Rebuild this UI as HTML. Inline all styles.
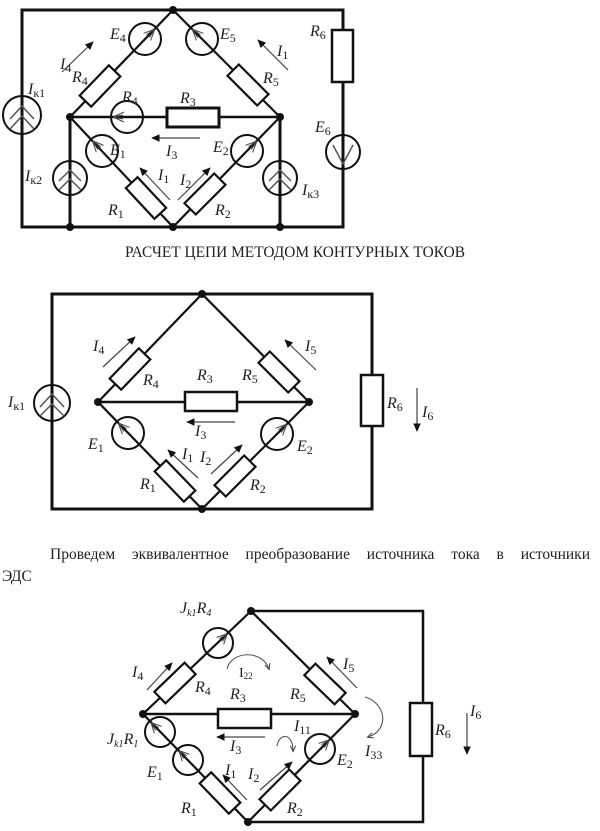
<!DOCTYPE html>
<html><head><meta charset="utf-8"><style>
html,body{margin:0;padding:0;background:#fff;}
body{width:600px;height:831px;position:relative;overflow:hidden;}
svg{position:absolute;left:0;top:0;}
.w3{stroke:#111;stroke-width:3;fill:none;}
.w2{stroke:#111;stroke-width:2.2;fill:none;}
.res{stroke:#111;stroke-width:2.2;fill:#fff;}
.src{stroke:#111;stroke-width:2;fill:none;}
.fe{stroke:#444;stroke-width:1;fill:none;}
.ch{stroke:#555;stroke-width:1.5;fill:none;}
.ar{stroke:#444;stroke-width:1.2;fill:none;marker-end:url(#ah);}
.cu{stroke:#555;stroke-width:1.1;fill:none;marker-end:url(#ah2);}
text{font-family:"Liberation Serif",serif;fill:#222;}
.l{font-style:italic;font-size:16px;}
.s{font-style:normal;font-size:12px;}
.si{font-style:italic;font-size:10px;}
.p{position:absolute;font-family:"Liberation Serif","DejaVu Serif",serif;font-size:15.5px;color:#222;}
</style></head><body>
<svg width="600" height="831" viewBox="0 0 600 831" xmlns="http://www.w3.org/2000/svg">
<defs>
<marker id="ah" viewBox="0 0 10 10" refX="9" refY="5" markerWidth="7" markerHeight="7" orient="auto"><path d="M0,0.5 L10,5 L0,9.5 z" fill="#111"/></marker>
<marker id="ah2" viewBox="0 0 10 10" refX="8" refY="5" markerWidth="6" markerHeight="6" orient="auto"><path d="M0,1 L9,5 L0,9" fill="none" stroke="#444" stroke-width="1.5"/></marker>
<g id="emf"><circle r="16" class="src"/><path class="fe" d="M14,0 L3,-5 M14,0 L3,5 M14,0 L4,-2 M14,0 L4,2"/></g>
<g id="emf15"><circle r="15" class="src"/><path class="fe" d="M13,0 L3,-5 M13,0 L3,5 M13,0 L4,-2 M13,0 L4,2"/></g>
</defs>

<!-- ================= DIAGRAM 1 ================= -->
<path class="w3" d="M22,10 H343 V227 H22 Z"/>
<path class="w2" d="M173,10 L70,117 L173,227 L280,117 Z"/>
<path class="w2" d="M70,117 H280" style="stroke-width:2.5"/>
<path class="w3" d="M70,117 V227 M280,117 V227"/>
<g transform="translate(22,115)"><circle r="19" class="src" fill="#fff"/><line x1="0" y1="-19" x2="0" y2="19" stroke="#111" stroke-width="2.5"/><path class="ch" d="M-12,4 L0,-9 L12,4 M-12,14 L0,1 L12,14"/></g>
<g transform="translate(70,178)"><circle r="17" class="src"/><path class="ch" d="M-11,3 L0,-8 L11,3 M-11,12 L0,1 L11,12"/></g>
<g transform="translate(280,178)"><circle r="17" class="src"/><path class="ch" d="M-11,3 L0,-8 L11,3 M-11,12 L0,1 L11,12"/></g>
<rect class="res" x="332" y="30" width="21" height="52" style="stroke-width:2.5"/>
<g transform="translate(343,152)"><circle r="17" class="src" fill="#fff"/><line x1="0" y1="-17" x2="0" y2="17" stroke="#111" stroke-width="2.5"/><path class="ch" d="M-10,-7 L0,12 L10,-7"/></g>
<use href="#emf" transform="translate(145,39) rotate(-45)"/>
<use href="#emf" transform="translate(202,39) rotate(-135)"/>
<rect class="res" x="-21" y="-8" width="42" height="16" transform="translate(100,86) rotate(-46)"/>
<rect class="res" x="-21" y="-8" width="42" height="16" transform="translate(248,85) rotate(45)"/>
<use href="#emf" transform="translate(127,117) rotate(180)"/>
<rect class="res" x="167" y="108" width="52" height="19" style="stroke-width:3"/>
<use href="#emf" transform="translate(102,151) rotate(-133)"/>
<use href="#emf" transform="translate(247,151) rotate(-45)"/>
<rect class="res" x="-21" y="-8" width="42" height="16" transform="translate(146,198) rotate(47)"/>
<rect class="res" x="-21" y="-8" width="42" height="16" transform="translate(205,194) rotate(-45)"/>
<g fill="#111"><circle cx="173" cy="10" r="4"/><circle cx="70" cy="117" r="4"/><circle cx="280" cy="117" r="4"/><circle cx="173" cy="227" r="4"/><circle cx="70" cy="227" r="4"/><circle cx="280" cy="227" r="4"/></g>
<line class="ar" x1="62" y1="72" x2="93" y2="42"/>
<line class="ar" x1="288" y1="70" x2="258" y2="40"/>
<line class="ar" x1="200" y1="138" x2="152" y2="138"/>
<line class="ar" x1="170" y1="200" x2="140" y2="168"/>
<line class="ar" x1="178" y1="200" x2="210" y2="168"/>
<text class="l" x="110" y="39">E<tspan class="s" dy="3">4</tspan></text>
<text class="l" x="220" y="39">E<tspan class="s" dy="3">5</tspan></text>
<text class="l" x="60" y="69">I<tspan class="s" dy="3">4</tspan></text>
<text class="l" x="72" y="82">R<tspan class="s" dy="3">4</tspan></text>
<text class="l" x="277" y="56">I<tspan class="s" dy="3">1</tspan></text>
<text class="l" x="263" y="83">R<tspan class="s" dy="3">5</tspan></text>
<text class="l" x="310" y="36">R<tspan class="s" dy="3">6</tspan></text>
<text class="l" x="28" y="94">I<tspan class="s" dy="3">к1</tspan></text>
<text class="l" x="122" y="102">R<tspan class="s" dy="3">4</tspan></text>
<text class="l" x="180" y="103">R<tspan class="s" dy="3">3</tspan></text>
<text class="l" x="315" y="132">E<tspan class="s" dy="3">6</tspan></text>
<text class="l" x="110" y="155">E<tspan class="s" dy="3">1</tspan></text>
<text class="l" x="166" y="156">I<tspan class="s" dy="3">3</tspan></text>
<text class="l" x="213" y="152">E<tspan class="s" dy="3">2</tspan></text>
<text class="l" x="25" y="181">I<tspan class="s" dy="3">к2</tspan></text>
<text class="l" x="158" y="180">I<tspan class="s" dy="3">1</tspan></text>
<text class="l" x="180" y="185">I<tspan class="s" dy="3">2</tspan></text>
<text class="l" x="302" y="195">I<tspan class="s" dy="3">к3</tspan></text>
<text class="l" x="108" y="215">R<tspan class="s" dy="3">1</tspan></text>
<text class="l" x="215" y="215">R<tspan class="s" dy="3">2</tspan></text>

<text x="125" y="257" font-size="16" textLength="340" lengthAdjust="spacingAndGlyphs">РАСЧЕТ ЦЕПИ МЕТОДОМ КОНТУРНЫХ ТОКОВ</text>

<!-- ================= DIAGRAM 2 ================= -->
<path class="w3" d="M52,294 H372 V509 H52 Z"/>
<path class="w2" d="M202,294 L98,402 L202,509 L309,402 Z"/>
<path class="w2" d="M98,402 H309" style="stroke-width:2.5"/>
<g transform="translate(52,403)"><circle r="18" class="src" fill="#fff"/><line x1="0" y1="-18" x2="0" y2="18" stroke="#111" stroke-width="2.5"/><path class="ch" d="M-12,4 L0,-9 L12,4 M-12,13 L0,1 L12,13"/></g>
<rect class="res" x="361" y="375" width="22" height="51" style="stroke-width:2.5"/>
<rect class="res" x="185" y="392" width="52" height="19" style="stroke-width:2.5"/>
<rect class="res" x="-21" y="-8" width="42" height="16" transform="translate(130,369) rotate(-46)"/>
<rect class="res" x="-21" y="-8" width="42" height="16" transform="translate(279,372) rotate(45)"/>
<use href="#emf" transform="translate(128,433) rotate(-134)"/>
<use href="#emf" transform="translate(277,434) rotate(-45)"/>
<rect class="res" x="-21" y="-8" width="42" height="16" transform="translate(175,481) rotate(46)"/>
<rect class="res" x="-21" y="-8" width="42" height="16" transform="translate(235,476) rotate(-45)"/>
<g fill="#111"><circle cx="202" cy="294" r="4"/><circle cx="98" cy="402" r="4"/><circle cx="309" cy="402" r="4"/><circle cx="202" cy="509" r="4"/></g>
<line class="ar" x1="103" y1="367" x2="135" y2="337"/>
<line class="ar" x1="316" y1="370" x2="285" y2="340"/>
<line class="ar" x1="235" y1="422" x2="187" y2="422"/>
<line class="ar" x1="198" y1="478" x2="168" y2="450"/>
<line class="ar" x1="211" y1="474" x2="242" y2="445"/>
<line class="ar" x1="417" y1="388" x2="417" y2="431"/>
<text class="l" x="93" y="351">I<tspan class="s" dy="3">4</tspan></text>
<text class="l" x="305" y="351">I<tspan class="s" dy="3">5</tspan></text>
<text class="l" x="197" y="380">R<tspan class="s" dy="3">3</tspan></text>
<text class="l" x="143" y="385">R<tspan class="s" dy="3">4</tspan></text>
<text class="l" x="242" y="380">R<tspan class="s" dy="3">5</tspan></text>
<text class="l" x="8" y="407">I<tspan class="s" dy="3">к1</tspan></text>
<text class="l" x="387" y="408">R<tspan class="s" dy="3">6</tspan></text>
<text class="l" x="422" y="417">I<tspan class="s" dy="3">6</tspan></text>
<text class="l" x="195" y="436">I<tspan class="s" dy="3">3</tspan></text>
<text class="l" x="88" y="449">E<tspan class="s" dy="3">1</tspan></text>
<text class="l" x="297" y="451">E<tspan class="s" dy="3">2</tspan></text>
<text class="l" x="182" y="459">I<tspan class="s" dy="3">1</tspan></text>
<text class="l" x="200" y="462">I<tspan class="s" dy="3">2</tspan></text>
<text class="l" x="140" y="489">R<tspan class="s" dy="3">1</tspan></text>
<text class="l" x="250" y="490">R<tspan class="s" dy="3">2</tspan></text>

<!-- ================= DIAGRAM 3 ================= -->
<path class="w2" d="M251,611 H423 V822 H248" style="stroke-width:2.5"/>
<path class="w2" d="M251,611 L143,714 L248,822 L355,714 Z"/>
<path class="w2" d="M143,714 H355" style="stroke-width:2.5"/>
<use href="#emf15" transform="translate(218,643) rotate(-45)"/>
<rect class="res" x="-21" y="-8" width="42" height="16" transform="translate(175,683) rotate(-44)"/>
<rect class="res" x="-21" y="-8" width="42" height="16" transform="translate(325,684) rotate(44)"/>
<rect class="res" x="218" y="709" width="53" height="19" style="stroke-width:2.5"/>
<rect class="res" x="410" y="703" width="22" height="53" style="stroke-width:2.5"/>
<use href="#emf15" transform="translate(160,732) rotate(-134)"/>
<use href="#emf15" transform="translate(188,760) rotate(-134)"/>
<rect class="res" x="-21" y="-8" width="42" height="16" transform="translate(220,793) rotate(46)"/>
<rect class="res" x="-21" y="-8" width="42" height="16" transform="translate(280,790) rotate(-45)"/>
<use href="#emf15" transform="translate(320,749) rotate(-45)"/>
<g fill="#111"><circle cx="251" cy="611" r="4"/><circle cx="143" cy="714" r="4"/><circle cx="355" cy="714" r="4"/><circle cx="248" cy="822" r="4"/></g>
<line class="ar" x1="147" y1="690" x2="172" y2="663"/>
<line class="ar" x1="357" y1="688" x2="327" y2="657"/>
<line class="ar" x1="265" y1="737" x2="217" y2="737"/>
<line class="ar" x1="247" y1="800" x2="223" y2="775"/>
<line class="ar" x1="260" y1="790" x2="292" y2="762"/>
<line class="ar" x1="467" y1="713" x2="467" y2="754"/>
<path class="cu" d="M227,669 C231,651 262,649 269,669"/>
<path class="cu" d="M277,746 C279,733 293,732 293,751"/>
<path class="cu" d="M365,697 C386,703 390,730 368,737"/>
<text class="l" x="180" y="613">J<tspan class="si" dy="3">k1</tspan><tspan dy="-3">R</tspan><tspan class="si" dy="3">4</tspan></text>
<text class="l" x="132" y="677">I<tspan class="s" dy="3">4</tspan></text>
<text class="l" x="195" y="692">R<tspan class="s" dy="3">4</tspan></text>
<text class="l" x="230" y="699">R<tspan class="s" dy="3">3</tspan></text>
<text class="l" x="290" y="699">R<tspan class="s" dy="3">5</tspan></text>
<text class="l" x="343" y="669">I<tspan class="s" dy="3">5</tspan></text>
<text class="l" x="435" y="735">R<tspan class="s" dy="3">6</tspan></text>
<text class="l" x="470" y="716">I<tspan class="s" dy="3">6</tspan></text>
<text class="l" x="107" y="744">J<tspan class="si" dy="3">k1</tspan><tspan dy="-3">R</tspan><tspan class="si" dy="3">1</tspan></text>
<text class="l" x="230" y="751">I<tspan class="s" dy="3">3</tspan></text>
<text class="l" x="147" y="777">E<tspan class="s" dy="3">1</tspan></text>
<text class="l" x="337" y="765">E<tspan class="s" dy="3">2</tspan></text>
<text class="l" x="225" y="775">I<tspan class="s" dy="3">1</tspan></text>
<text class="l" x="248" y="779">I<tspan class="s" dy="3">2</tspan></text>
<text class="l" x="181" y="813">R<tspan class="s" dy="3">1</tspan></text>
<text class="l" x="287" y="813">R<tspan class="s" dy="3">2</tspan></text>
<text x="239" y="677" font-size="14">I<tspan font-size="9" dy="2">22</tspan></text>
<text class="l" x="294" y="731">I<tspan class="s" dy="3">11</tspan></text>
<text class="l" x="365" y="756">I<tspan class="s" dy="3">33</tspan></text>
</svg>
<div class="p" style="left:2px;top:545px;width:588px;line-height:20px;text-align:justify;text-align-last:justify;text-indent:48px;white-space:normal;">Проведем эквивалентное преобразование источника тока в источники</div>
<div class="p" style="left:2px;top:567px;line-height:20px;">ЭДС</div>
</body></html>
